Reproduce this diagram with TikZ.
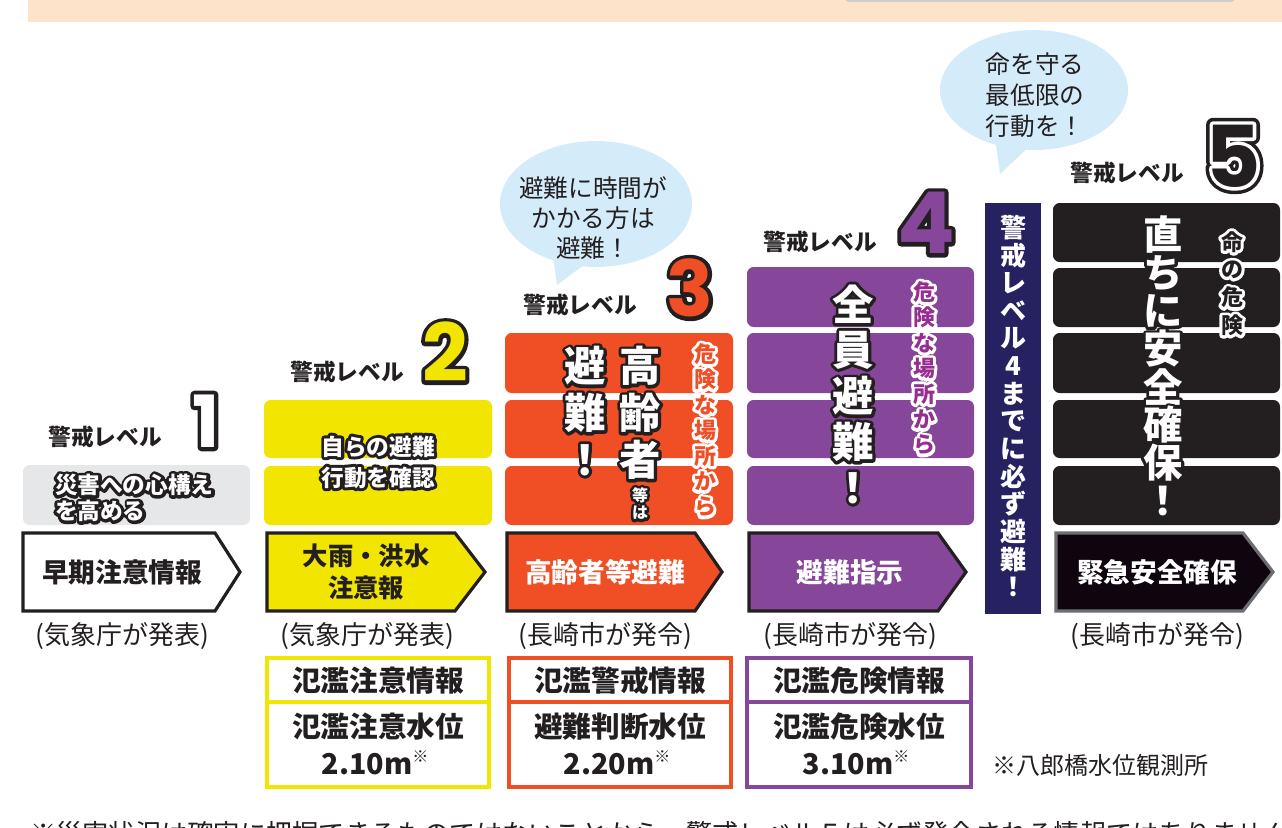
\documentclass[tikz,border=0pt]{standalone}
\usepackage{fontspec}
\setmainfont{Noto Sans CJK JP}
\newfontfamily\digitfont{Poppins}
\definecolor{ink}{HTML}{231F20}
\definecolor{peach}{HTML}{FDE3C9}
\definecolor{topgrey}{HTML}{CDCDCD}
\definecolor{boxgrey}{HTML}{E6E7E8}
\definecolor{yel}{HTML}{F2E500}
\definecolor{org}{HTML}{F04E24}
\definecolor{pur}{HTML}{86469A}
\definecolor{purtxt}{HTML}{962E91}
\definecolor{navy}{HTML}{262262}
\definecolor{blk}{HTML}{231F20}
\definecolor{blkarrow}{HTML}{0E050E}
\definecolor{arrowgrey}{HTML}{6D6E71}
\definecolor{bubble}{HTML}{D4ECFA}
% outlined text: style, x, y, outline colour, radius (px), text
% the outline is drawn as a stroked copy of the text (PDF text render mode 2)
\newcommand\otext[6]{%
  \pgfmathsetmacro\strokew{1.5*#5}%
  \node[#1,text=#4] at (#2,#3)
    {\special{pdf:literal direct 2 Tr 1 j \strokew\space w}#6\special{pdf:literal direct 0 Tr}};
  \node[#1] at (#2,#3) {#6};}
% vertical outlined text: style, x, ytop, spacing, outline colour, radius, chars
\newcommand\vtext[7]{%
  \foreach \ch [count=\ii from 0] in {#7}{%
    \otext{#1}{#2}{#3+\ii*#4}{#5}{#6}{\ch}}}
\newcommand\sigshape[5]{% style, x0, x1, xtip, name
  \draw[#1] (#2,533) -- (#3,533) -- (#4,572) -- (#3,611) -- (#2,611) -- cycle;
  \coordinate (#5) at (#2,572);}
\begin{document}
\begin{tikzpicture}[x=0.75pt,y=-0.75pt,
  every node/.style={inner sep=0pt,outer sep=0pt},
  lvllabel/.style={font=\bfseries\fontsize{17}{17}\selectfont,text=ink},
  boxtxt/.style={font=\bfseries\fontsize{17}{19.5}\selectfont,text=white},
  arrtxt/.style={font=\bfseries\fontsize{20}{24}\selectfont},
  srctxt/.style={font=\fontsize{19.5}{20}\selectfont,text=ink},
  tabtxt/.style={font=\bfseries\fontsize{21.5}{22}\selectfont,text=ink},
  bubtxt/.style={font=\fontsize{18.5}{22.5}\selectfont,text=ink,align=center},
  bigv/.style={font=\bfseries\fontsize{31}{31}\selectfont,text=white},
  midv/.style={font=\bfseries\fontsize{16.5}{16.5}\selectfont},
  smallv/.style={font=\bfseries\fontsize{12}{12}\selectfont,text=white},
  navytxt/.style={font=\bfseries\fontsize{19.5}{19.5}\selectfont,text=white},
  digit/.style={font=\digitfont\bfseries\fontsize{#1}{#1}\selectfont},
  sigstyle/.style={line width=2.4pt,line join=miter},
  tabbox/.style={line width=2.3pt},
  rbox/.style={rounded corners=5pt}]
\useasboundingbox (0,0) rectangle (1282,828);
\begin{scope}
\clip (0,0) rectangle (1282,828);
% top band
\fill[peach] (28,0) rectangle (1282,22);
\fill[topgrey,rounded corners=3pt] (845,-12) rectangle (1235,2);

% ---------------- Level 1
\node[lvllabel] (l1lab) at (105,437) {警戒レベル};
\otext{digit=54,text=white}{206}{421}{ink}{4}{1}
\fill[boxgrey,rbox] (23,465) rectangle (250,525);
\otext{boxtxt,align=left,anchor=west}{55}{498}{ink}{3}{災害への心構え\\を高める}
\sigshape{sigstyle,draw=ink,fill=white}{23}{215}{240}{a1}
\node[arrtxt,text=ink] (t1) at (122,572) {早期注意情報};
\node[srctxt] (s1) at (122,636) {(気象庁が発表)};

% ---------------- Level 2
\node[lvllabel] (l2lab) at (347,372) {警戒レベル};
\otext{digit=60,text=yel}{445}{352}{ink}{4}{2}
\fill[yel,rbox] (264,400) rectangle (492,458);
\fill[yel,rbox] (264,466) rectangle (492,525);
\otext{boxtxt,align=center,font=\bfseries\fontsize{17}{23.25}\selectfont}{378}{462}{ink}{3}{自らの避難\\行動を確認}
\sigshape{sigstyle,draw=ink,fill=yel}{267}{455}{485}{a2}
\node[arrtxt,text=ink,align=center,font=\bfseries\fontsize{19}{24}\selectfont] (t2) at (366,572) {大雨・洪水\\注意報};
\node[srctxt] (s2) at (367,636) {(気象庁が発表)};
\draw[yel,tabbox] (267,658) rectangle (489,787);
\draw[yel,tabbox] (267,702) -- (489,702);
\node[tabtxt] (b2a) at (378,681) {氾濫注意情報};
\node[tabtxt] (b2b) at (378,727) {氾濫注意水位};
\node[tabtxt] (b2c) at (375,763) {2.10m\raisebox{0.4em}{\fontsize{12}{12}\selectfont ※}};

% ---------------- Level 3
\fill[bubble] (596,204) ellipse [x radius=96, y radius=63];
\fill[bubble] (552,250) -- (557,285) -- (588,262) -- cycle;
\node[bubtxt] (bub3) at (593,218) {避難に時間が\\かかる方は\\避難！};
\node[lvllabel] (l3lab) at (580,305) {警戒レベル};
\otext{digit=58,text=org}{690}{288}{ink}{4}{3}
\fill[org,rbox] (505,333) rectangle (733,393);
\fill[org,rbox] (505,400) rectangle (733,458);
\fill[org,rbox] (505,466) rectangle (733,525);
\vtext{bigv}{585}{366}{47}{ink}{3}{避,難,！}
\vtext{bigv}{640}{366}{47}{ink}{3}{高,齢,者}
\vtext{smallv}{640}{495}{18}{ink}{2.5}{等,は}
\vtext{midv,text=org}{705}{354}{25.5}{white}{3}{危,険,な,場,所,か,ら}
\sigshape{sigstyle,draw=ink,fill=org}{507}{695}{722}{a3}
\node[arrtxt,text=white] (t3) at (605,572) {高齢者等避難};
\node[srctxt] (s3) at (605,636) {(長崎市が発令)};
\draw[org,tabbox] (509,658) rectangle (731,787);
\draw[org,tabbox] (509,702) -- (731,702);
\node[tabtxt] (b3a) at (620,681) {氾濫警戒情報};
\node[tabtxt] (b3b) at (620,727) {避難判断水位};
\node[tabtxt] (b3c) at (617,763) {2.20m\raisebox{0.4em}{\fontsize{12}{12}\selectfont ※}};

% ---------------- Level 4
\node[lvllabel] (l4lab) at (820,242) {警戒レベル};
\otext{digit=64,text=pur}{926}{223}{ink}{4}{4}
\fill[pur,rbox] (747,267) rectangle (974,327);
\fill[pur,rbox] (747,333) rectangle (974,393);
\fill[pur,rbox] (747,400) rectangle (974,458);
\fill[pur,rbox] (747,466) rectangle (974,525);
\vtext{bigv}{853}{304}{46}{ink}{3}{全,員,避,難,！}
\vtext{midv,text=purtxt}{924}{292}{25.5}{white}{3}{危,険,な,場,所,か,ら}
\sigshape{sigstyle,draw=ink,fill=pur}{749}{938}{966}{a4}
\node[arrtxt,text=white] (t4) at (850,572) {避難指示};
\node[srctxt] (s4) at (850,636) {(長崎市が発令)};
\draw[pur,tabbox] (747,658) rectangle (971,787);
\draw[pur,tabbox] (747,702) -- (971,702);
\node[tabtxt] (b4a) at (859,681) {氾濫危険情報};
\node[tabtxt] (b4b) at (859,727) {氾濫危険水位};
\node[tabtxt] (b4c) at (856,763) {3.10m\raisebox{0.4em}{\fontsize{12}{12}\selectfont ※}};
\node[srctxt,font=\fontsize{18}{18}\selectfont] (note) at (1100,765) {※八郎橋水位観測所};

% ---------------- navy column
\fill[navy] (985,203) rectangle (1041,614);
\foreach \ch [count=\ii from 0] in {警,戒,レ,ベ,ル,4,ま,で,に,必,ず,避,難,！}{
  \node[navytxt] at (1013,228+\ii*27.6) {\ch};}

% ---------------- Level 5
\fill[bubble] (1034,90) ellipse [x radius=94, y radius=60];
\fill[bubble] (995,138) -- (1000,174) -- (1030,146) -- cycle;
\node[bubtxt,font=\fontsize{18.5}{23.25}\selectfont] (bub5) at (1035,95) {命を守る\\最低限の\\行動を！};
\node[lvllabel] (l5lab) at (1127,173) {警戒レベル};
\otext{digit=64,text=white}{1233}{156}{ink}{7}{5}
\otext{digit=64,text=ink}{1233}{156}{white}{3.5}{5}
\foreach \ya/\yb in {203/262,268/327,333/393,400/458,466/525}{
  \fill[blk,rbox] (1053,\ya) rectangle (1280,\yb);}
\vtext{bigv,font=\bfseries\fontsize{29.5}{29.5}\selectfont}{1163}{235}{38}{ink}{3}{直,ち,に,安,全,確,保,！}
\vtext{midv,text=ink}{1232}{242}{27.7}{white}{3}{命,の,危,険}
\sigshape{sigstyle,draw=arrowgrey,fill=blkarrow}{1056}{1243}{1273}{a5}
\node[arrtxt,text=white] (t5) at (1157,572) {緊急安全確保};
\node[srctxt] (s5) at (1157,636) {(長崎市が発令)};

% ---------------- footnote (cut by the lower edge, as in the reference)
\node[font=\fontsize{19.7}{20}\selectfont,text=ink,anchor=base west] (foot) at (30,843)
  {※災害状況は確実に把握できるものではないことから、警戒レベル５は必ず発令される情報ではありません};
\end{scope}
\end{tikzpicture}
\end{document}
